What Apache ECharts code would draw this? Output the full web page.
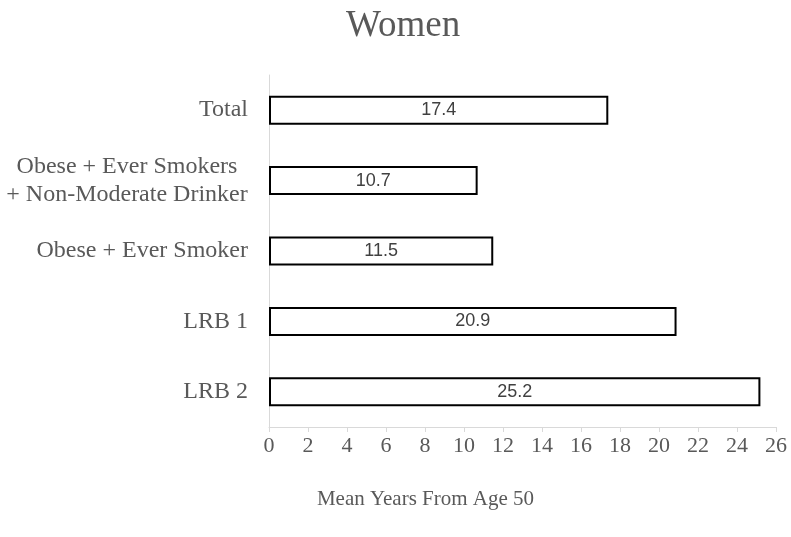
<!DOCTYPE html>
<html>
<head>
<meta charset="utf-8">
<script src="https://cdn.jsdelivr.net/npm/echarts@6/dist/echarts.min.js"></script>
<style>html,body{margin:0;padding:0;background:#fff}#c{width:791px;height:537px}</style>
</head>
<body>
<div id="c"></div>
<script>
const titleText = 'Women';
const categories = ['Total', 'Obese + Ever Smokers\n+ Non-Moderate Drinker', 'Obese + Ever Smoker', 'LRB 1', 'LRB 2'];
const values = [17.4, 10.7, 11.5, 20.9, 25.2];
const xMin = 0, xMax = 26, xStep = 2;
const xName = 'Mean Years From Age 50';

const serif = '"Liberation Serif", "Times New Roman", serif';
const chart = echarts.init(document.getElementById('c'), null, {renderer: 'canvas'});
chart.setOption({
  backgroundColor: '#ffffff',
  animation: false,
  title: {
    text: titleText, left: 341, top: 3,
    textStyle: {fontFamily: serif, fontSize: 37, fontWeight: 'normal', color: '#595959'}
  },
  grid: {left: 269, right: 15, top: 75, bottom: 110, containLabel: false},
  xAxis: {
    type: 'value', min: xMin, max: xMax, interval: xStep,
    name: xName, nameLocation: 'middle', nameGap: 62,
    nameTextStyle: {fontFamily: serif, fontSize: 21, color: '#595959', padding: [0, 194, 0, 0]},
    axisLine: {show: true, lineStyle: {color: '#d9d9d9', width: 1}},
    axisTick: {show: true, length: 5, lineStyle: {color: '#d9d9d9'}},
    splitLine: {show: false},
    axisLabel: {fontFamily: serif, fontSize: 22, color: '#595959', margin: 8}
  },
  yAxis: {
    type: 'category', data: categories, inverse: true,
    axisLine: {show: true, lineStyle: {color: '#d9d9d9', width: 1}},
    axisTick: {show: false},
    axisLabel: {
      fontFamily: serif, fontSize: 24, color: '#595959', margin: 21, lineHeight: 28,
      formatter: function (v) {
        if (v.indexOf('\n') >= 0) {
          return v.split('\n').map(function (s) { return '{m|' + s + '}'; }).join('\n');
        }
        return v;
      },
      rich: {m: {fontFamily: serif, fontSize: 24, color: '#595959', width: 242, align: 'center', lineHeight: 28}}
    }
  },
  series: [{
    type: 'bar', data: values, barWidth: 29,
    itemStyle: {color: '#ffffff', borderColor: '#000000', borderWidth: 2},
    label: {
      show: true, position: 'inside', color: '#404040',
      fontFamily: '"Liberation Sans", Arial, sans-serif', fontSize: 18,
      formatter: function (p) { return p.value.toFixed(1); }
    }
  }]
});
</script>
</body>
</html>
